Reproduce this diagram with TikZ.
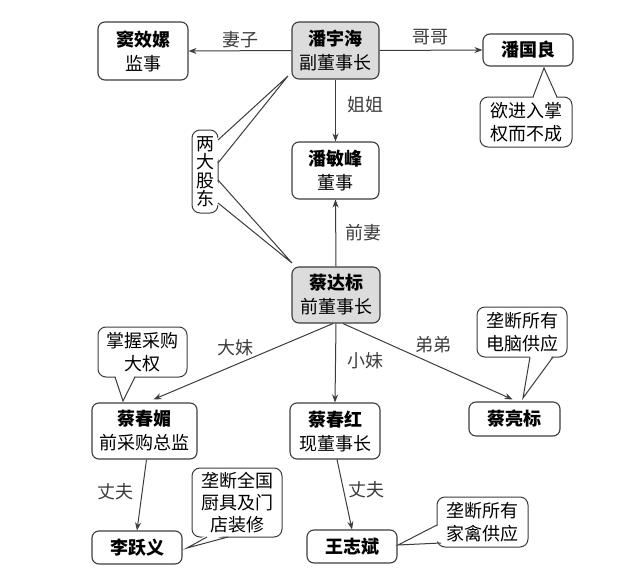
\documentclass[tikz,border=0pt]{standalone}
\usepackage{fontspec}
\setmainfont{Noto Sans CJK SC}
\usetikzlibrary{arrows.meta}
\definecolor{edge}{HTML}{3C3C3C}
\definecolor{hl}{HTML}{DCDCDC}
\tikzset{
  box/.style={draw=edge, line width=1.1pt, rounded corners=7pt, fill=white, inner sep=0pt, align=center,
    font=\fontsize{18}{24}\selectfont},
  gray/.style={fill=hl},
  note/.style={draw=edge, line width=1pt, rounded corners=8pt, fill=white, inner sep=0pt, align=center,
    font=\fontsize{18}{23.5}\selectfont},
  arr/.style={draw=edge, line width=1pt, -{Stealth[length=8pt,width=6pt]}},
  lbl/.style={font=\fontsize{18}{20}\selectfont, text=edge, inner sep=1pt},
  ptr/.style={draw=edge, line width=1pt, line join=miter},
}
\newcommand\callptr[5]{%
  \fill[white] #4 -- #2 -- #5 -- cycle;
  \draw[ptr] #1 -- #2 -- #3;}
\begin{document}
\begin{tikzpicture}[x=1pt,y=-1pt]
\useasboundingbox (0,0) rectangle (640,578);
% main boxes
\node[box, minimum width=90pt, minimum height=58pt] (dou) at (143,51) {\textbf{窦效嫘}\\监事};
\node[box, gray, minimum width=87pt, minimum height=57pt] (pyh) at (335.5,50.5) {\textbf{潘宇海}\\副董事长};
\node[box, minimum width=90pt, minimum height=32pt] (pgl) at (528,50) {\textbf{潘国良}};
\node[box, minimum width=87pt, minimum height=57pt] (pmf) at (335.5,170.5) {\textbf{潘敏峰}\\董事};
\node[box, gray, minimum width=88pt, minimum height=56pt] (cdb) at (336,295) {\textbf{蔡达标}\\前董事长};
\node[box, minimum width=105pt, minimum height=56pt] (ccm) at (144.5,431) {\textbf{蔡春媚}\\前采购总监};
\node[box, minimum width=90pt, minimum height=56pt] (cch) at (335,431) {\textbf{蔡春红}\\现董事长};
\node[box, minimum width=91pt, minimum height=34pt] (clb) at (514.5,419) {\textbf{蔡亮标}};
\node[box, minimum width=90pt, minimum height=33pt] (lyy) at (137,547.5) {\textbf{李跃义}};
\node[box, minimum width=90pt, minimum height=33pt] (wzb) at (352,546.5) {\textbf{王志斌}};
% notes
\node[note, minimum width=92pt, minimum height=50pt] (c1) at (526,122) {欲进入掌\\权而不成};
\node[note, minimum width=26pt, minimum height=83pt, font=\fontsize{18}{18.5}\selectfont] (gd) at (205,171.5) {两\\大\\股\\东};
\node[note, minimum width=89pt, minimum height=50pt] (c2) at (142.5,352) {掌握采购\\大权};
\node[note, minimum width=90pt, minimum height=50pt] (c3) at (522,332) {垄断所有\\电脑供应};
\node[note, minimum width=90pt, minimum height=69pt, font=\fontsize{18}{22}\selectfont] (c4) at (237,502.5) {垄断全国\\厨具及门\\店装修};
\node[note, minimum width=91pt, minimum height=50pt] (c5) at (482.5,522) {垄断所有\\家禽供应};
% pointer tips
\coordinate (t1) at (544,68);
\coordinate (tg1) at (288,76);
\coordinate (tg2) at (292,263);
\coordinate (t2) at (123,401);
\coordinate (t3) at (523,398);
\coordinate (t4) at (187,548);
\coordinate (t5) at (398,545);
\callptr{(533,97)}{(t1)}{(557,97)}{(533,99.5)}{(557,99.5)}
\callptr{(218,140)}{(tg1)}{(218,163)}{(215.5,140)}{(215.5,163)}
\callptr{(218,180)}{(tg2)}{(218,203)}{(215.5,180)}{(215.5,203)}
\callptr{(115,377)}{(t2)}{(135,377)}{(115,374.5)}{(135,374.5)}
\callptr{(530,357)}{(t3)}{(553,357)}{(530,354.5)}{(553,354.5)}
\callptr{(207,537)}{(t4)}{(228,537)}{(207,534.5)}{(228,534.5)}
\callptr{(437,525)}{(t5)}{(441,543)}{(439.5,525)}{(443,541)}
% connectors
\draw[arr] (pyh.west) -- (dou.east);
\draw[arr] (pyh.east) -- (pgl.west);
\draw[arr] (pyh.south) -- (pmf.north);
\draw[arr] (cdb.north) -- (pmf.south);
\draw[arr] ([xshift=-3pt]cdb.south) -- ([xshift=9pt,yshift=3pt]ccm.north);
\draw[arr] (cdb.south) -- (cch.north);
\draw[arr] ([xshift=7pt]cdb.south) -- ([xshift=-2pt,yshift=2pt]clb.north);
\draw[arr] ([xshift=2pt]ccm.south) -- (lyy.north);
\draw[arr] ([xshift=2pt]cch.south) -- (wzb.north);
% labels
\node[lbl] (l1) at (240,40) {妻子};
\node[lbl] (l2) at (430,37) {哥哥};
\node[lbl] (l3) at (365,105) {姐姐};
\node[lbl] (l4) at (363,233) {前妻};
\node[lbl] (l5) at (235,348) {大妹};
\node[lbl] (l6) at (365,361) {小妹};
\node[lbl] (l7) at (433,345) {弟弟};
\node[lbl] (l8) at (115,492) {丈夫};
\node[lbl] (l9) at (366,490) {丈夫};
\end{tikzpicture}
\end{document}
